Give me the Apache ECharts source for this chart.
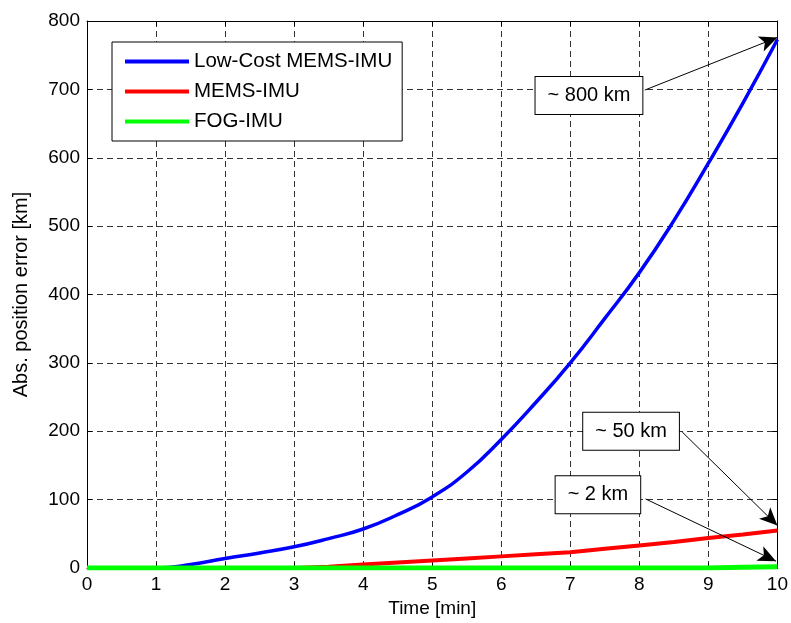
<!DOCTYPE html>
<html>
<head>
<meta charset="utf-8">
<script src="https://cdn.jsdelivr.net/npm/echarts@6/dist/echarts.min.js"></script>
<style>
  html, body { margin: 0; padding: 0; background: #fff; }
  #chart { width: 791px; height: 623px; }
</style>
</head>
<body>
<div id="chart"></div>
<script>
  // time axis [min]
  var timeMin = [0, 0.5, 1, 1.5, 2, 2.5, 3, 3.5, 4, 4.5, 5, 5.5, 6, 6.5, 7, 7.5, 8, 8.5, 9, 9.5, 10]
  // abs. position error [km]
  var lowCostMems = [0, 0, 0, 5, 14, 22, 31, 43, 57, 78, 104, 140, 188, 242, 300, 365, 432, 508, 592, 680, 773]
  var mems = [0, 0, 0, 0, 0, 0, 0, 2, 5, 8, 11, 14, 17, 20, 23, 28, 33, 38, 44, 49, 55]
  var fog = [0, 0, 0, 0, 0, 0, 0, 0, 0, 0, 0, 0, 0, 0, 0, 0, 0, 0, 0, 1, 2]

  var xTicks = [0, 10, 1]
  var yTicks = [0, 800, 100]

  // annotation texts and where they point (data units)
  var notes = ['~ 800 km', '~ 50 km', '~ 2 km']
  var notePos = [[7.27, 691], [7.88, 200], [7.40, 107]]
  var arrowFrom = [[8.08, 699], [8.62, 199], [8.09, 101]]
  var arrowTo = [[10, 776], [10, 62], [9.98, 10]]

  var font = "'Liberation Sans', Arial, sans-serif"

  function pairs(ys) {
    return timeMin.map(function (t, i) { return [t, ys[i]] })
  }

  var chart = echarts.init(document.getElementById('chart'))

  var dash = { color: '#333', width: 1, type: [6, 4] }

  var option = {
    animation: false,
    backgroundColor: '#fff',
    textStyle: { fontFamily: font },
    grid: { left: 87, right: 12, top: 21, bottom: 55 },
    legend: {
      data: ['Low-Cost MEMS-IMU', 'MEMS-IMU', 'FOG-IMU'],
      orient: 'vertical',
      left: 112,
      top: 42,
      icon: 'rect',
      itemWidth: 64,
      itemHeight: 4,
      itemGap: 9,
      padding: [9, 10, 9, 13],
      backgroundColor: '#fff',
      borderColor: '#000',
      borderWidth: 1,
      textStyle: { fontSize: 20.5, color: '#000', fontFamily: font }
    },
    xAxis: [{
      type: 'value',
      min: xTicks[0], max: xTicks[1], interval: xTicks[2],
      name: 'Time [min]',
      nameLocation: 'middle',
      nameGap: 28,
      nameTextStyle: { fontSize: 19, color: '#000' },
      axisLine: { lineStyle: { color: '#000', width: 1 } },
      axisTick: { inside: true, length: 5, lineStyle: { color: '#000' } },
      axisLabel: { fontSize: 19, color: '#000', margin: 7 },
      splitLine: { show: true, lineStyle: dash }
    }, {
      type: 'value', position: 'top',
      min: xTicks[0], max: xTicks[1], interval: xTicks[2],
      axisLine: { show: true, onZero: false, lineStyle: { color: '#000', width: 1 } },
      axisTick: { inside: true, length: 5, lineStyle: { color: '#000' } },
      axisLabel: { show: false },
      splitLine: { show: false }
    }],
    yAxis: [{
      type: 'value',
      min: yTicks[0], max: yTicks[1], interval: yTicks[2],
      name: 'Abs. position error [km]',
      nameLocation: 'middle',
      nameGap: 56,
      nameTextStyle: { fontSize: 20, color: '#000' },
      axisLine: { show: true, lineStyle: { color: '#000', width: 1 } },
      axisTick: { show: true, inside: true, length: 5, lineStyle: { color: '#000' } },
      axisLabel: { fontSize: 19, color: '#000', margin: 7 },
      splitLine: { show: true, lineStyle: dash }
    }, {
      type: 'value', position: 'right',
      min: yTicks[0], max: yTicks[1], interval: yTicks[2],
      axisLine: { show: true, onZero: false, lineStyle: { color: '#000', width: 1 } },
      axisTick: { show: true, inside: true, length: 5, lineStyle: { color: '#000' } },
      axisLabel: { show: false },
      splitLine: { show: false }
    }],
    series: [
      {
        name: 'Low-Cost MEMS-IMU',
        type: 'line',
        data: pairs(lowCostMems),
        showSymbol: false,
        smooth: true,
        color: '#0000ff',
        lineStyle: { width: 3.5 },
        z: 2
      },
      {
        name: 'MEMS-IMU',
        type: 'line',
        data: pairs(mems),
        showSymbol: false,
        color: '#ff0000',
        lineStyle: { width: 4 },
        z: 3
      },
      {
        name: 'FOG-IMU',
        type: 'line',
        data: pairs(fog),
        showSymbol: false,
        color: '#00ff00',
        lineStyle: { width: 5 },
        z: 4
      },
      {
        // text boxes and arrows
        name: 'notes',
        type: 'line',
        data: [],
        clip: false,
        z: 6,
        markLine: {
          silent: true,
          symbol: ['none', 'arrow'],
          symbolSize: [12, 18],
          label: { show: false },
          lineStyle: { color: '#000', width: 1, type: 'solid' },
          data: arrowFrom.map(function (p, i) {
            return [{ coord: p }, { coord: arrowTo[i] }]
          })
        },
        markPoint: {
          silent: true,
          symbol: 'rect',
          symbolSize: 0,
          label: {
            show: true,
            position: 'inside',
            fontSize: 20,
            color: '#000',
            fontFamily: font,
            backgroundColor: '#fff',
            borderColor: '#000',
            borderWidth: 1,
            padding: [9, 12, 8, 12]
          },
          data: notes.map(function (t, i) {
            return { coord: notePos[i], value: t, label: { formatter: t } }
          })
        }
      }
    ]
  }

  chart.setOption(option)
</script>
</body>
</html>
